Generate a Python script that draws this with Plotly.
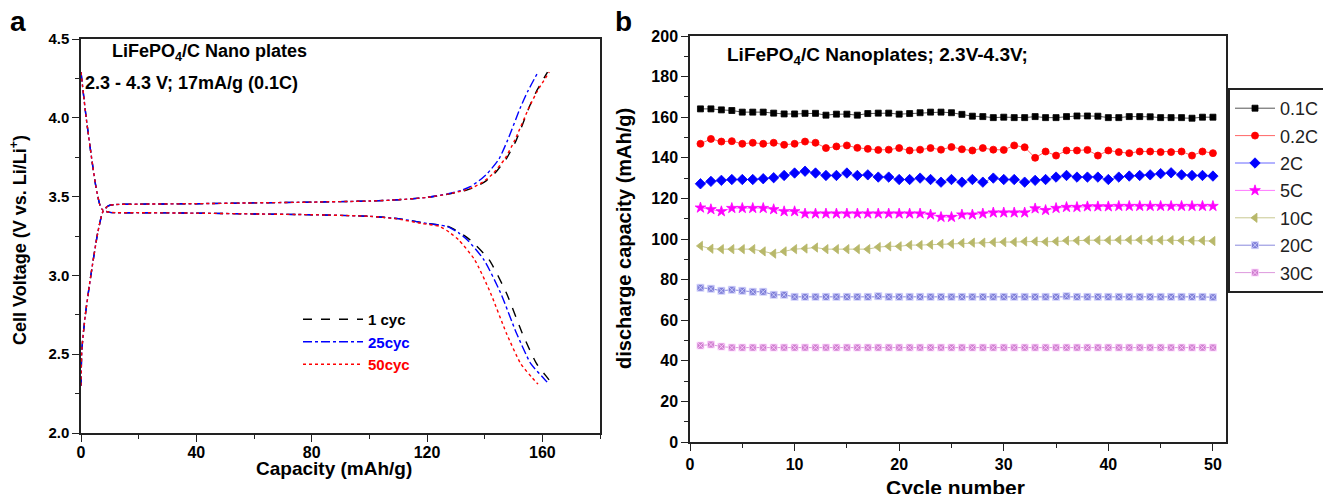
import plotly.graph_objects as go

# ---------------- Panel a data (capacity mAh/g, voltage V) ----------------
V_charge = [2.30, 2.53, 2.75, 3.01, 3.27, 3.40, 3.435, 3.445, 3.45, 3.452, 3.455, 3.46, 3.465,
            3.472, 3.48, 3.495, 3.517, 3.54, 3.563, 3.60, 3.648, 3.74, 3.86, 4.07, 4.17, 4.29]
cap_charge_1 = [0, 0.3, 1.5, 3.5, 5.8, 7.5, 9, 10, 12, 20, 40, 60, 80,
                100, 110, 120, 128, 133.5, 137, 140.5, 143.5, 147.5, 151, 155.5, 158, 161.8]
cap_charge_25 = [0, 0.3, 1.5, 3.5, 5.8, 7.5, 9, 10, 12, 20, 40, 60, 80,
                 100, 110, 120, 127, 132, 135, 138, 141, 145, 148, 152.5, 155, 158.5]
cap_charge_50 = [0, 0.3, 1.5, 3.5, 5.8, 7.5, 9, 10, 12, 20, 40, 60, 80,
                 100, 110, 120, 127.5, 133, 136.5, 140, 143, 147, 150.5, 155.5, 158.3, 162.4]

V_discharge = [4.29, 4.0, 3.69, 3.56, 3.45, 3.415, 3.40, 3.398, 3.395, 3.39, 3.385, 3.375,
               3.36, 3.33, 3.31, 3.27, 3.225, 3.10, 2.89, 2.635, 2.44, 2.35, 2.31]
cap_discharge_1 = [0, 1.8, 4.1, 5.2, 6.5, 7.5, 10, 20, 40, 60, 80, 100,
                   110, 120, 127.5, 131.5, 135, 141.5, 147.5, 153, 158, 161.8, 163.5]
cap_discharge_25 = [0, 1.8, 4.1, 5.2, 6.5, 7.5, 10, 20, 40, 60, 80, 100,
                    110, 120, 127, 131, 134, 139.7, 145.5, 151, 156, 160.3, 162.3]
cap_discharge_50 = [0, 1.8, 4.1, 5.2, 6.5, 7.5, 10, 20, 40, 60, 80, 100,
                    109, 118, 124.5, 128, 131, 136.5, 142, 147.5, 152.5, 156.5, 158.5]

# ---------------- Panel b data ----------------
cycles = list(range(1, 51))
cap_01C = [164.1, 164.1, 163.6, 163.3, 162.5, 162.5, 162.5, 162.0, 161.6, 161.6,
           161.9, 161.9, 161.0, 161.5, 161.5, 161.0, 161.8, 162.0, 162.0, 161.5,
           161.8, 162.2, 162.5, 162.5, 162.2, 161.4, 160.5, 160.3, 159.8, 160.0,
           159.8, 159.8, 160.3, 159.8, 159.8, 160.3, 160.6, 160.6, 160.5, 159.8,
           159.8, 160.3, 160.3, 160.2, 159.8, 159.8, 159.8, 159.5, 160.0, 160.0]
cap_02C = [146.9, 149.3, 148.0, 148.2, 146.9, 147.4, 146.9, 147.4, 146.4, 146.9,
           148.0, 147.4, 144.8, 145.6, 146.1, 144.9, 144.4, 143.9, 144.0, 144.8,
           143.6, 144.0, 144.8, 144.0, 145.3, 144.2, 143.6, 144.8, 144.0, 143.9,
           146.1, 145.2, 140.0, 143.1, 141.1, 143.6, 143.6, 143.9, 141.1, 143.6,
           142.8, 142.3, 143.1, 143.1, 142.8, 142.8, 143.1, 141.1, 143.1, 142.3]
cap_2C = [127.2, 128.4, 128.9, 129.3, 129.3, 129.3, 129.7, 130.2, 131.3, 132.5,
          133.4, 132.5, 131.3, 131.3, 132.5, 131.3, 131.6, 130.5, 130.5, 129.3,
          129.3, 130.0, 129.3, 128.0, 129.3, 128.0, 129.3, 128.0, 130.0, 129.3,
          129.3, 128.0, 128.9, 129.3, 130.5, 131.3, 130.5, 130.5, 130.5, 129.3,
          130.5, 131.0, 131.3, 131.6, 132.2, 132.6, 131.6, 131.3, 131.3, 131.0]
cap_5C = [115.4, 114.6, 113.6, 115.2, 115.2, 115.2, 115.2, 114.6, 113.6, 113.6,
          112.5, 112.5, 112.5, 112.5, 112.5, 112.5, 112.5, 112.5, 112.5, 112.5,
          112.5, 112.5, 112.0, 110.8, 110.8, 112.0, 112.0, 112.5, 113.0, 113.0,
          113.0, 113.0, 115.0, 114.2, 115.2, 115.7, 115.7, 116.0, 116.0, 116.0,
          116.2, 116.2, 116.2, 116.2, 116.2, 116.2, 116.2, 116.2, 116.2, 116.2]
cap_10C = [96.6, 95.2, 95.0, 95.0, 95.0, 95.0, 93.9, 92.8, 93.9, 95.0,
           95.3, 95.8, 95.0, 95.0, 95.0, 95.0, 95.0, 96.0, 96.4, 96.4,
           97.0, 97.0, 97.2, 97.6, 97.6, 98.0, 98.2, 98.2, 98.4, 98.5,
           98.5, 98.8, 98.8, 98.6, 98.8, 99.2, 99.2, 99.4, 99.4, 99.4,
           99.6, 99.6, 99.6, 99.4, 99.4, 99.4, 99.2, 99.2, 99.2, 99.0]
cap_20C = [76.0, 75.5, 74.5, 75.0, 74.5, 74.0, 74.0, 72.5, 72.5, 71.5,
           71.5, 71.5, 71.5, 71.5, 71.5, 71.5, 71.5, 71.8, 71.5, 71.5,
           71.5, 71.5, 71.5, 71.5, 71.5, 71.5, 71.5, 71.5, 71.5, 71.5,
           71.5, 71.5, 71.5, 71.5, 71.5, 71.8, 71.5, 71.5, 71.5, 71.5,
           71.5, 71.5, 71.5, 71.5, 71.5, 71.5, 71.5, 71.5, 71.5, 71.3]
cap_30C = [47.5, 48.0, 47.0, 46.5, 46.5, 46.5, 46.5, 46.5, 46.5, 46.5,
           46.5, 46.5, 46.5, 46.5, 46.5, 46.5, 46.5, 46.5, 46.5, 46.5,
           46.5, 46.5, 46.5, 46.5, 46.5, 46.5, 46.5, 46.5, 46.5, 46.5,
           46.5, 46.5, 46.5, 46.5, 46.5, 46.5, 46.5, 46.5, 46.5, 46.5,
           46.5, 46.5, 46.5, 46.5, 46.5, 46.5, 46.5, 46.5, 46.5, 46.5]

xticks_a = [0, 40, 80, 120, 160]
yticks_a = [2.0, 2.5, 3.0, 3.5, 4.0, 4.5]
xticks_b = [0, 10, 20, 30, 40, 50]
yticks_b = list(range(0, 201, 20))

W, H = 1323, 494
FONT = "Liberation Sans, Arial, sans-serif"


def px(x):
    return x / W


def py(y):
    return 1 - y / H


fig = go.Figure()

# Panel a traces
cyc_styles = [
    ("1 cyc", "black", "dash", cap_charge_1, cap_discharge_1),
    ("25cyc", "blue", "dashdot", cap_charge_25, cap_discharge_25),
    ("50cyc", "red", "dot", cap_charge_50, cap_discharge_50),
]
for name, col, dash, cc, cd in cyc_styles:
    fig.add_trace(go.Scatter(
        x=cc, y=V_charge, mode="lines",
        line=dict(color=col, dash=dash, width=1.4, shape="spline", smoothing=0.6),
        name="<b><span style='color:%s'>%s</span></b>" % (col, name), legendgroup=name,
        xaxis="x", yaxis="y", legend="legend"))
    fig.add_trace(go.Scatter(
        x=cd, y=V_discharge, mode="lines",
        line=dict(color=col, dash=dash, width=1.4, shape="spline", smoothing=0.6),
        name=name, legendgroup=name, showlegend=False, xaxis="x", yaxis="y"))

# Panel b traces
series_b = [
    ("0.1C", cap_01C, "black", "#555555", "square", 6, "black"),
    ("0.2C", cap_02C, "red", "#ff6666", "circle", 7, "red"),
    ("2C", cap_2C, "blue", "#6666ff", "diamond", 8, "blue"),
    ("5C", cap_5C, "#ff00ff", "#ff77ff", "star", 8, "#ff00ff"),
    ("10C", cap_10C, "#b8b86a", "#c8c890", "triangle-left", 8, "#b8b86a"),
    ("20C", cap_20C, "#8080d8", "#8888dd", "square-x", 7, "#d8d8ff"),
    ("30C", cap_30C, "#d080d0", "#dd99dd", "square-x", 7, "#ffd8ff"),
]
for name, vals, mcol, lcol, sym, size, olc in series_b:
    fig.add_trace(go.Scatter(
        x=cycles, y=vals, mode="lines+markers", name=name, legendgroup=name,
        line=dict(color=lcol, width=1),
        marker=dict(color=mcol, symbol=sym, size=size, line=dict(width=0.8, color=olc)),
        xaxis="x2", yaxis="y2", legend="legend2"))

axis_common = dict(showgrid=False, zeroline=False, showline=True, linecolor="#222", linewidth=1.5,
                   ticks="outside", ticklen=7, tickwidth=1.3, tickcolor="#222", mirror=True,
                   tickmode="array")
minor_common = dict(ticklen=4, ticks="outside", tickcolor="#222", tickwidth=1.2)

fig.update_layout(
    width=W, height=H,
    margin=dict(l=0, r=0, t=0, b=0, autoexpand=False),
    paper_bgcolor="white", plot_bgcolor="white",
    font=dict(family=FONT, color="black"),
    xaxis=dict(axis_common, domain=[px(81), px(600)], range=[0, 180], tickvals=xticks_a,
               ticktext=["<b>%d</b>" % v for v in xticks_a],
               minor=dict(minor_common, tickvals=[20, 60, 100, 140, 180]),
               ticklabelstandoff=-3,
               anchor="y", tickfont=dict(family=FONT, size=16, color="black")),
    yaxis=dict(axis_common, domain=[py(433), py(39)], range=[2.0, 4.5],
               tickvals=yticks_a, ticktext=["<b>%.1f</b>" % v for v in yticks_a],
               minor=dict(minor_common, tickvals=[2.25, 2.75, 3.25, 3.75, 4.25]),
               anchor="x", tickfont=dict(family=FONT, size=15, color="black")),
    xaxis2=dict(axis_common, domain=[px(690), px(1226)], range=[0, 51.25], tickvals=xticks_b,
                ticktext=["<b>%d</b>" % v for v in xticks_b],
                minor=dict(minor_common, tickvals=[5, 15, 25, 35, 45]),
                anchor="y2", tickfont=dict(family=FONT, size=16, color="black")),
    yaxis2=dict(axis_common, domain=[py(442), py(36)], range=[0, 200], tickvals=yticks_b,
                ticktext=["<b>%d</b>" % v for v in yticks_b],
                minor=dict(minor_common, tickvals=list(range(10, 200, 20))),
                anchor="x2", tickfont=dict(family=FONT, size=16, color="black")),
    legend=dict(x=px(298), y=py(303), xanchor="left", yanchor="top", bgcolor="rgba(0,0,0,0)",
                borderwidth=0, font=dict(family=FONT, size=15), tracegroupgap=0, itemwidth=60),
    legend2=dict(x=px(1228), y=py(88), xanchor="left", yanchor="top", bgcolor="white",
                 bordercolor="#222", borderwidth=2, font=dict(family=FONT, size=18, color="#222"),
                 tracegroupgap=1, itemwidth=40),
)

annotations = [
    dict(text="<b>a</b>", x=px(8), y=py(21), font=dict(size=28)),
    dict(text="<b>b</b>", x=px(613), y=py(21), font=dict(size=28)),
    dict(text="<b>LiFePO<sub>4</sub>/C Nano plates</b>", x=px(110), y=py(53), font=dict(size=18)),
    dict(text="<b>2.3 - 4.3 V; 17mA/g (0.1C)</b>", x=px(83), y=py(83), font=dict(size=18)),
    dict(text="<b>LiFePO<sub>4</sub>/C Nanoplates; 2.3V-4.3V;</b>", x=px(725), y=py(56), font=dict(size=19)),
    dict(text="<b>Cell Voltage (V vs. Li/Li<sup>+</sup>)</b>", x=px(19), y=py(240), textangle=-90,
         xanchor="center", font=dict(size=18)),
    dict(text="<b>Capacity (mAh/g)</b>", x=px(334), y=py(468), xanchor="center", font=dict(size=19)),
    dict(text="<b>discharge capacity (mAh/g)</b>", x=px(624), y=py(239), textangle=-90,
         xanchor="center", font=dict(size=20)),
    dict(text="<b>Cycle number</b>", x=px(955), y=py(487), xanchor="center", font=dict(size=21)),
]
for a in annotations:
    a.setdefault("xanchor", "left")
    a.setdefault("yanchor", "middle")
    a["xref"] = "paper"
    a["yref"] = "paper"
    a["showarrow"] = False
    a["font"] = dict(family=FONT, color="black", **a["font"])
fig.update_layout(annotations=annotations)

fig.write_html("out.html", config={"displayModeBar": False},
               post_script="document.body.style.margin='0';document.body.style.overflow='hidden';")
